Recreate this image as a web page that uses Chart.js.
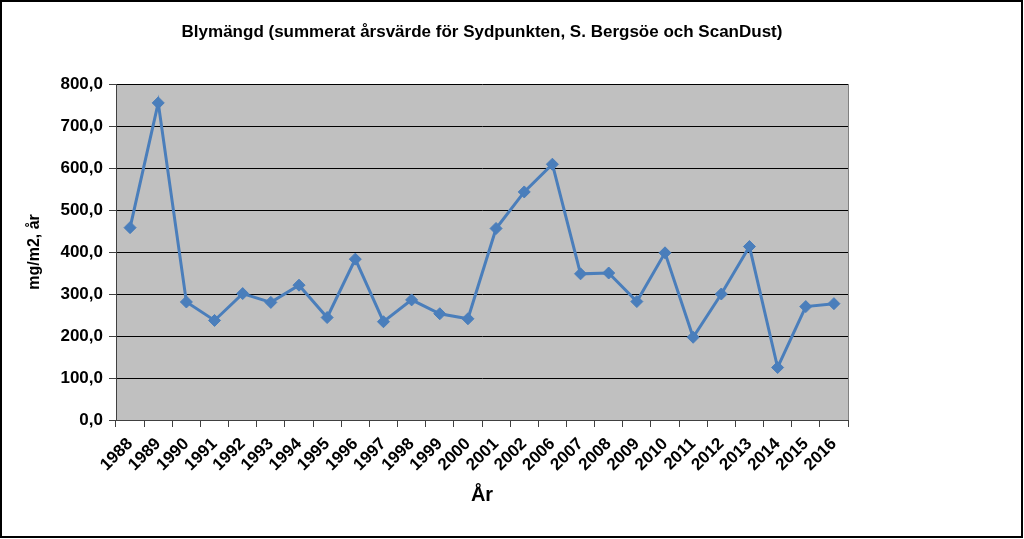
<!DOCTYPE html>
<html>
<head>
<meta charset="utf-8">
<title>Blymängd</title>
<script src="https://cdn.jsdelivr.net/npm/chart.js@4/dist/chart.umd.min.js"></script>
<style>
    html, body { margin: 0; padding: 0; background: #fff; }
    #wrap { width: 1024px; height: 539px; }
</style>
</head>
<body>
<div id="wrap"><canvas id="leadChart" width="1024" height="539"></canvas></div>
<script>
// Arsvarden, 2003-2005 saknas i underlaget
const years = ['1988', '1989', '1990', '1991', '1992', '1993', '1994', '1995', '1996',
    '1997', '1998', '1999', '2000', '2001', '2002', '2006', '2007', '2008', '2009',
    '2010', '2011', '2012', '2013', '2014', '2015', '2016'];
const leadValues = [458, 755, 281, 237, 301, 280, 321, 244, 383,
    234, 286, 253, 241, 456, 543, 609, 348, 350, 282,
    398, 197, 300, 413, 125, 270, 277];
const yMin = 0;
const yMax = 800;
const yStep = 100;

const FONT = '"Liberation Sans", Arial, sans-serif';
const LINE_COLOR = '#4a7ebb';

function formatValue(v) {
    return v.toFixed(1).replace('.', ',');
}

const plotBackground = {
    id: 'plotBackground',
    beforeDraw(chart) {
        const { ctx, chartArea: a } = chart;
        ctx.save();
        ctx.fillStyle = '#c0c0c0';
        ctx.fillRect(a.left, a.top, a.right - a.left, a.bottom - a.top);
        ctx.restore();
    },
    afterDraw(chart) {
        const { ctx, chartArea: a, width, height } = chart;
        ctx.save();
        // plot area right edge
        ctx.strokeStyle = '#808080';
        ctx.lineWidth = 1;
        ctx.beginPath();
        ctx.moveTo(a.right + 0.5, a.top);
        ctx.lineTo(a.right + 0.5, a.bottom);
        ctx.stroke();
        // outer frame
        ctx.strokeStyle = '#000';
        ctx.lineWidth = 2;
        ctx.strokeRect(1, 1, width - 3, height - 3);
        ctx.restore();
    }
};

function initChart() {
    const ctx = document.getElementById('leadChart').getContext('2d');
    return new Chart(ctx, {
        type: 'line',
        data: {
            labels: years,
            datasets: [{
                label: 'Blymängd',
                data: leadValues,
                borderColor: LINE_COLOR,
                backgroundColor: LINE_COLOR,
                borderWidth: 3,
                tension: 0,
                fill: false,
                pointStyle: 'rectRot',
                pointRadius: 6,
                pointBorderWidth: 1,
                pointBackgroundColor: LINE_COLOR,
                pointBorderColor: LINE_COLOR
            }]
        },
        options: {
            responsive: false,
            animation: false,
            layout: { padding: { left: 0, right: 176, top: 0, bottom: 0 } },
            plugins: {
                legend: { display: false },
                tooltip: { enabled: false },
                title: {
                    display: true,
                    fullSize: false,
                    text: 'Blymängd (summerat årsvärde för Sydpunkten, S. Bergsöe och ScanDust)',
                    color: '#000',
                    font: { family: FONT, size: 17, weight: 'bold' },
                    padding: { top: 22, bottom: 41.6 }
                }
            },
            scales: {
                x: {
                    type: 'category',
                    offset: true,
                    afterFit(scale) { scale.height = 119; },
                    grid: {
                        offset: true,
                        drawOnChartArea: false,
                        drawTicks: true,
                        tickLength: 7,
                        color: '#404040'
                    },
                    border: { display: true, color: '#404040', width: 1 },
                    ticks: {
                        autoSkip: false,
                        minRotation: 45,
                        maxRotation: 45,
                        padding: 7,
                        color: '#000',
                        font: { family: FONT, size: 17, weight: 'bold' }
                    },
                    title: {
                        display: true,
                        text: 'År',
                        color: '#000',
                        font: { family: FONT, size: 20, weight: 'bold' },
                        padding: { top: 0, bottom: 32 }
                    }
                },
                y: {
                    min: yMin,
                    max: yMax,
                    afterFit(scale) { scale.width = 116; },
                    grid: {
                        color: '#000',
                        lineWidth: 1,
                        drawTicks: true,
                        tickLength: 7,
                        tickColor: '#404040'
                    },
                    border: { display: true, color: '#404040', width: 1 },
                    ticks: {
                        stepSize: yStep,
                        padding: 6,
                        color: '#000',
                        font: { family: FONT, size: 17, weight: 'bold' },
                        callback: (v) => formatValue(v)
                    },
                    title: {
                        display: true,
                        text: 'mg/m2, år',
                        color: '#000',
                        font: { family: FONT, size: 16, weight: 'bold' },
                        padding: { top: 25, bottom: 0 }
                    }
                }
            }
        },
        plugins: [plotBackground]
    });
}

document.addEventListener('DOMContentLoaded', function() {
    initChart();
});
</script>
</body>
</html>
